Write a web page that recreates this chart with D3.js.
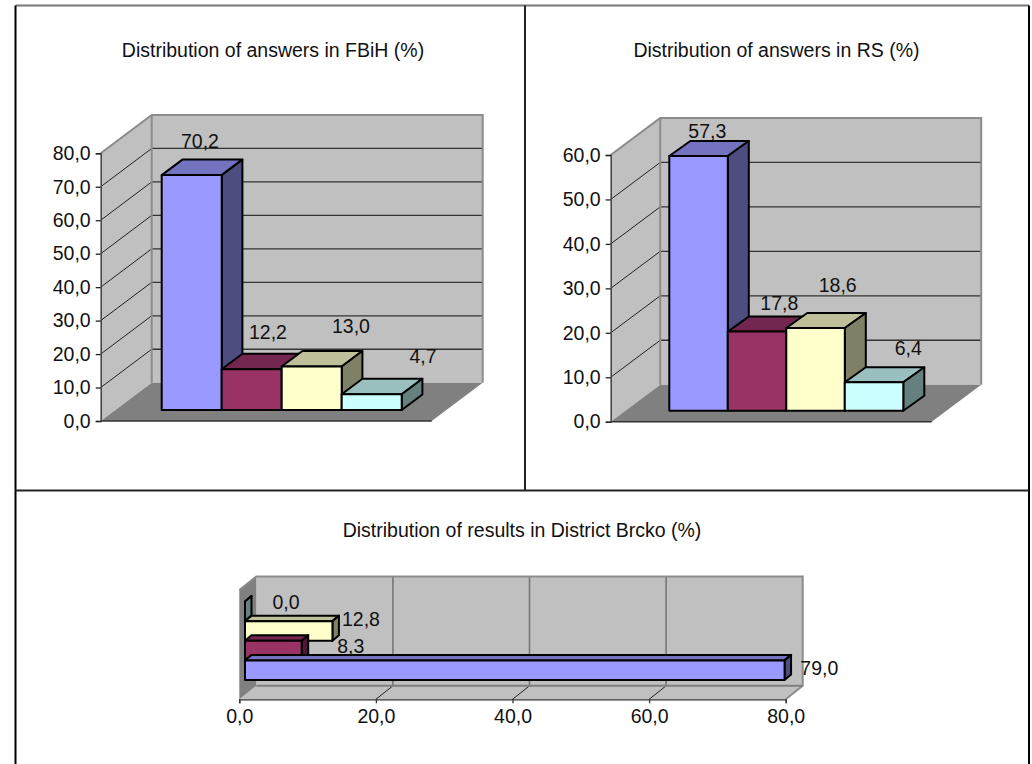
<!DOCTYPE html>
<html><head><meta charset="utf-8">
<script src="https://cdn.jsdelivr.net/npm/d3@7"></script>
<style>html,body{margin:0;padding:0;background:#fff}svg{display:block}
text{font-family:"Liberation Sans",Arial,sans-serif;fill:#111}</style></head>
<body><svg id="c" width="1032" height="764"></svg>
<script>
// ---- data ----
const seriesKeys = ["A","B","C","D"];
const fbihValues = [70.2,12.2,13.0,4.7];
const rsValues = [57.3,17.8,18.6,6.4];
const brckoValues = [79.0,8.3,12.8,0.0];
const fbihTicks = [0,10,20,30,40,50,60,70,80];
const rsTicks = [0,10,20,30,40,50,60];
const brckoTicks = [0,20,40,60,80];
const fbihTitle = "Distribution of answers in FBiH (%)";
const rsTitle = "Distribution of answers in RS (%)";
const brckoTitle = "Distribution of results in District Brcko (%)";
// ---- style ----
const fills = ["#9999FF","#993366","#FFFFCC","#CCFFFF"];
const tops  = ["#7373BF","#732650","#BFBF99","#99BFBF"];
const sides = ["#4D4D80","#4D1A33","#808066","#668080"];
const FS = 19.5;
const fmt = v => d3.format(".1f")(v).replace(".",",");
const svg = d3.select("#c");
const poly = (g,pts,fill,stroke,sw) => g.append("polygon").attr("points",pts.map(p=>p.join(",")).join(" "))
  .attr("fill",fill).attr("stroke",stroke||"none").attr("stroke-width",sw||0).attr("stroke-linejoin","round");
const line = (g,x1,y1,x2,y2,c,w) => g.append("line").attr("x1",x1).attr("y1",y1).attr("x2",x2).attr("y2",y2).attr("stroke",c).attr("stroke-width",w);
const label = (g,x,y,t,a) => g.append("text").attr("x",x).attr("y",y).attr("text-anchor",a||"middle").attr("dominant-baseline","central").attr("font-size",FS).text(t);

// frame
[[15.5,5.5,1029,5.5,"#777"],[15.5,5.5,15.5,764,"#000"],[1029,5.5,1029,764,"#000"],[15.5,490.5,1029,490.5,"#222"],[525,5.5,525,490.5,"#222"]]
 .forEach(l=>line(svg,l[0],l[1],l[2],l[3],l[4],2));

function columnChart(o){
  const g = svg.append("g");
  const y = d3.scaleLinear().domain(o.domain).range([o.y0,o.yTop]);
  const band = d3.scaleBand().domain(seriesKeys).range([o.barL,o.barR]);
  const {dx,dy} = o;
  const xb = o.x0+dx, xr = o.xR;
  // side wall, back wall, floor
  poly(g,[[o.x0,o.y0],[xb,o.y0-dy],[xb,o.yTop-dy],[o.x0,o.yTop]],"#C0C0C0");
  poly(g,[[xb,o.y0-dy],[xr+dx,o.y0-dy],[xr+dx,o.yTop-dy],[xb,o.yTop-dy]],"#C0C0C0");
  poly(g,[[o.x0,o.y0],[xb,o.y0-dy],[xr+dx,o.y0-dy],[xr,o.y0]],"#808080");
  o.ticks.forEach(t=>{ if(t===0) return;
    line(g,o.x0,y(t),xb,y(t)-dy,"#222",1);
    if(t<o.domain[1]) line(g,xb,y(t)-dy,xr+dx,y(t)-dy,"#333",1.3);
    else line(g,xb,y(t)-dy,xr+dx,y(t)-dy,"#808080",1.5);
  });
  g.append("path").attr("d",`M${o.x0},${o.yTop}L${xb},${o.yTop-dy}L${xr+dx},${o.yTop-dy}L${xr+dx},${o.y0-dy}`).attr("fill","none").attr("stroke","#8c8c8c").attr("stroke-width",2);
  line(g,xb,o.yTop-dy,xb,o.y0-dy,"#8c8c8c",2);
  line(g,o.x0,o.y0,xr,o.y0,"#333",1.5);
  // axis
  const ax = g.append("g").attr("transform",`translate(${o.x0},0)`)
    .call(d3.axisLeft(y).tickValues(o.ticks).tickFormat(fmt).tickSize(5).tickPadding(5));
  ax.selectAll("text").attr("font-size",FS).attr("font-family",'"Liberation Sans",Arial,sans-serif').attr("fill","#111");
  ax.selectAll("line,path").attr("stroke","#222").attr("stroke-width",1.3);
  ax.select("path").attr("stroke","#444").attr("stroke-width",1.5);
  // bars
  const h = v => o.barBase-(o.y0-y(v));
  o.values.forEach((v,i)=>{
    const l=band(seriesKeys[i]), r=l+band.bandwidth(), t=h(v), b=o.barBase;
    poly(g,[[l,t],[r,t],[r+o.bx,t-o.by],[l+o.bx,t-o.by]],tops[i],"#000",2);
    poly(g,[[r,t],[r+o.bx,t-o.by],[r+o.bx,b-o.by],[r,b]],sides[i],"#000",2);
    poly(g,[[l,t],[r,t],[r,b],[l,b]],fills[i],"#000",2);
  });
  o.values.forEach((v,i)=>label(g,o.labelX[i],o.labelY[i],fmt(v)));
  label(g,o.titleX,o.titleY,o.title);
}

columnChart({title:fbihTitle,titleX:273,titleY:50,values:fbihValues,ticks:fbihTicks,domain:[0,80],
  x0:100.7,xR:431.7,y0:421,yTop:153.3,dx:51,dy:38.3,barL:161.7,barR:401.7,barBase:410,bx:20.7,by:15.5,
  labelX:[200,268,351,423],labelY:[141,332,326,356]});
columnChart({title:rsTitle,titleX:776.5,titleY:50,values:rsValues,ticks:rsTicks,domain:[0,60],
  x0:610.7,xR:931.7,y0:421.7,yTop:155,dx:49.5,dy:37,barL:669.3,barR:903.3,barBase:410.7,bx:21,by:15,
  labelX:[707.3,779.3,837.7,908.3],labelY:[130.7,303,285,348]});

(function(){
  const g = svg.append("g");
  const x0=239.3,x1=785.7,y0=699.3,dx=17,dy=13.5,top=590;
  const x = d3.scaleLinear().domain([0,80]).range([x0,x1]);
  poly(g,[[x0+dx,top-dy],[x1+dx,top-dy],[x1+dx,y0-dy],[x0+dx,y0-dy]],"#C0C0C0");
  poly(g,[[x0,y0],[x0+dx,y0-dy],[x1+dx,y0-dy],[x1,y0]],"#C0C0C0");
  poly(g,[[x0,y0],[x0+dx,y0-dy],[x0+dx,top-dy],[x0,top]],"#808080");
  brckoTicks.forEach(t=>{ if(t===0||t===80) return;
    line(g,x(t),y0,x(t)+dx,y0-dy,"#222",1);
    line(g,x(t)+dx,y0-dy,x(t)+dx,top-dy,"#777",1.6);
  });
  g.append("path").attr("d",`M${x0},${top}L${x0+dx},${top-dy}L${x1+dx},${top-dy}L${x1+dx},${y0-dy}L${x1},${y0}`).attr("fill","none").attr("stroke","#8c8c8c").attr("stroke-width",2);
  line(g,x0+dx,y0-dy,x1+dx,y0-dy,"#808080",2);
  const ax = g.append("g").attr("transform",`translate(0,${y0})`)
    .call(d3.axisBottom(x).tickValues(brckoTicks).tickFormat(fmt).tickSize(4).tickPadding(6));
  ax.selectAll("text").attr("font-size",FS).attr("font-family",'"Liberation Sans",Arial,sans-serif').attr("fill","#111");
  ax.selectAll("line,path").attr("stroke","#333").attr("stroke-width",1.3);
  const band = d3.scaleBand().domain(seriesKeys).range([680,601.5]);
  const bx0=245, bx=6.5, by=5.5;
  const bw = v => (x(v)-x(0));
  [3,2,1,0].forEach(i=>{
    const v=brckoValues[i], tb=band(seriesKeys[i]), bb=tb+band.bandwidth(), l=bx0, r=bx0+bw(v);
    poly(g,[[l,tb],[r,tb],[r+bx,tb-by],[l+bx,tb-by]],tops[i],"#000",2);
    poly(g,[[r,tb],[r+bx,tb-by],[r+bx,bb-by],[r,bb]],sides[i],"#000",2);
    if(v>0) poly(g,[[l,tb],[r,tb],[r,bb],[l,bb]],fills[i],"#000",2);
  });
  const lx=[819.3,350.7,361,286], ly=[667.7,646,619,602.3];
  brckoValues.forEach((v,i)=>label(g,lx[i],ly[i],fmt(v)));
  label(g,522,530,brckoTitle);
})();
</script></body></html>
